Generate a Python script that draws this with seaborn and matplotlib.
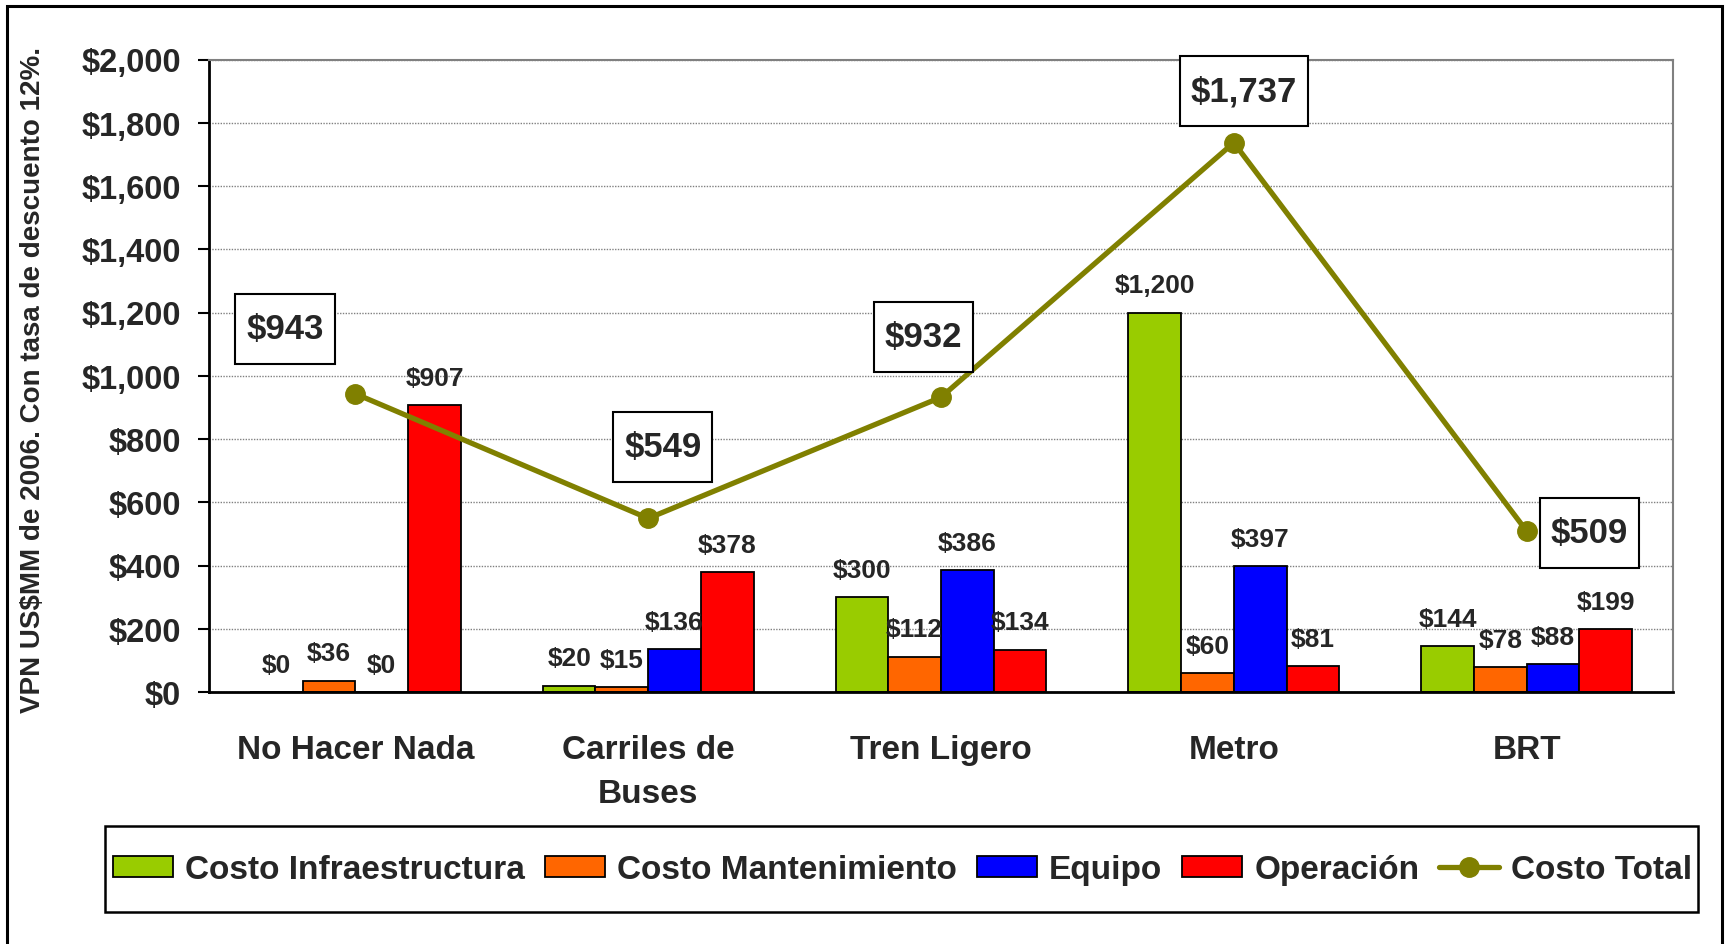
import numpy as np
import pandas as pd
import matplotlib
matplotlib.use('Agg')
import matplotlib.pyplot as plt
import seaborn as sns
from matplotlib.patches import Patch, Rectangle
from matplotlib.lines import Line2D

sns.set_style('white')
plt.rcParams['font.family'] = ['Liberation Sans', 'DejaVu Sans']
plt.rcParams['font.weight'] = 'bold'

# datos
categorias = ['No Hacer Nada', 'Carriles de\nBuses', 'Tren Ligero', 'Metro', 'BRT']
componentes = ['Costo Infraestructura', 'Costo Mantenimiento', 'Equipo', 'Operación']
infraestructura = [0, 20, 300, 1200, 144]
mantenimiento = [36, 15, 112, 60, 78]
equipo = [0, 136, 386, 397, 88]
operacion = [907, 378, 134, 81, 199]
costo_total = [943, 549, 932, 1737, 509]

colores = ['#99CC00', '#FF6600', '#0000FF', '#FF0000']
color_linea = '#808000'

# donde van las cajas del total (x, y en datos)
cajas_x = [-0.24, 1.05, 1.94, 3.035, 4.215]
cajas_y = [1148, 775, 1123, 1901, 503]

df = pd.DataFrame({
    'categoria': np.repeat(categorias, len(componentes)),
    'componente': componentes * len(categorias),
    'valor': np.array([infraestructura, mantenimiento, equipo, operacion]).T.ravel(),
})

fig = plt.figure(figsize=(17.25, 9.45), dpi=100)
ax = fig.add_axes([209/1725, 1-693/945, (1673-209)/1725, (693-60.5)/945])

sns.barplot(data=df, x='categoria', y='valor', hue='componente',
            hue_order=componentes, order=categorias, palette=colores,
            width=0.72, edgecolor='black', linewidth=1.3, saturation=1,
            legend=False, ax=ax)

for cont, vals in zip(ax.containers, [infraestructura, mantenimiento, equipo, operacion]):
    ax.bar_label(cont, labels=[f"${v:,.0f}" for v in vals], padding=11,
                 fontsize=19, fontweight='bold')

ax.plot(range(len(categorias)), costo_total, color=color_linea, lw=3.8,
        marker='o', markersize=14, zorder=5, clip_on=False)

textos = []
for x, y, v in zip(cajas_x, cajas_y, costo_total):
    t = ax.text(x, y, f"${v:,.0f}", fontsize=25, fontweight='bold', ha='center', va='center',
                zorder=7, clip_on=False)
    textos.append(t)

ax.set_xlim(-0.5, 4.5)
ax.set_ylim(0, 2000)
ax.set_yticks(np.arange(0, 2001, 200))
ax.set_yticklabels([f"${v:,.0f}" for v in np.arange(0, 2001, 200)], fontsize=23.5, fontweight='bold')
ax.set_xticks(range(len(categorias)))
ax.set_xticklabels(categorias, fontsize=24, fontweight='bold')
for t in ax.get_xticklabels():
    t.set_linespacing(1.55)
ax.set_xticks(np.arange(-0.5, 5, 1), minor=True)
ax.tick_params(axis='x', which='major', length=0, pad=30)
ax.tick_params(axis='x', which='minor', length=9, width=1.5, color='black', direction='out')
ax.tick_params(axis='y', length=8, width=1.5, color='black', direction='out', pad=12, left=True)
ax.set_xlabel('')
ax.set_ylabel('')

ax.grid(axis='y', color='#808080', linestyle=(0, (1, 1)), lw=1)
ax.set_axisbelow(True)
for s in ['left', 'bottom']:
    ax.spines[s].set_color('black')
    ax.spines[s].set_linewidth(2)
for s in ['top', 'right']:
    ax.spines[s].set_color('#808080')
    ax.spines[s].set_linewidth(1.5)

fig.text(33/1725, 1-380/945, 'VPN US$MM de 2006. Con tasa de descuento 12%.',
         rotation=90, ha='center', va='center', fontsize=20, fontweight='bold')

# cajas blancas alrededor de los totales
fig.canvas.draw()
r = fig.canvas.get_renderer()
for t in textos:
    bb = t.get_window_extent(r)
    cx, cy = (bb.x0 + bb.x1) / 2, (bb.y0 + bb.y1) / 2
    w, h = bb.width + 22, 70
    fig.add_artist(Rectangle(((cx - w/2)/1725, (cy - h/2)/945), w/1725, h/945,
                             transform=fig.transFigure, fc='white', ec='black',
                             lw=1.5, zorder=6))
    t.remove()
    fig.text(cx/1725, cy/945, t.get_text(), fontsize=25, fontweight='bold',
             ha='center', va='center', zorder=8)

handles = [Patch(facecolor=c, edgecolor='black', lw=1.3, label=l) for c, l in zip(colores, componentes)]
handles.append(Line2D([], [], color=color_linea, lw=3.8, marker='o', markersize=14, label='Costo Total'))
leg = fig.legend(handles=handles, loc='center', bbox_to_anchor=(903/1725, 1-871/945), ncol=5,
                 fontsize=24, frameon=False,
                 handlelength=1.8, handleheight=0.6, handletextpad=0.36,
                 columnspacing=0.6, borderpad=0.2)
fig.add_artist(Rectangle((105/1725, 1-913/945), (1698-105)/1725, (913-827)/945,
                         transform=fig.transFigure, fill=False, ec='black', lw=1.8))

fig.add_artist(Rectangle((7/1725, -0.05), (1722-7)/1725, 1.05-7/945,
                         transform=fig.transFigure, fill=False, ec='black', lw=2.2))

fig.savefig('out.png', dpi=100)
